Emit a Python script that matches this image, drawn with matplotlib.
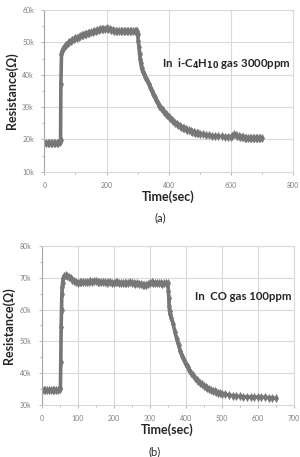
import matplotlib
matplotlib.use("Agg")
import matplotlib.pyplot as plt
from matplotlib.ticker import FuncFormatter, MultipleLocator

# (a) i-C4H10 gas 3000ppm
time_a = [0, 5, 10, 15, 20, 25, 30, 35, 40, 45, 50, 52, 53, 55, 57, 60, 65, 70, 75, 80,
          85, 90, 95, 100, 105, 110, 115, 120, 125, 130, 135, 140, 145, 150, 155, 160,
          165, 170, 175, 180, 185, 190, 195, 200, 205, 210, 215, 220, 225, 230, 235, 240,
          245, 250, 255, 260, 265, 270, 275, 280, 285, 290, 295, 298, 300, 302, 304, 306,
          308, 310, 313, 316, 320, 325, 330, 335, 340, 345, 350, 355, 360, 365, 370, 375,
          380, 385, 390, 395, 400, 405, 410, 415, 420, 425, 430, 435, 440, 445, 450, 455,
          460, 465, 470, 475, 480, 485, 490, 495, 500, 510, 520, 530, 540, 550, 560, 570,
          580, 590, 600, 605, 610, 615, 620, 625, 630, 635, 640, 645, 650, 655, 660, 665,
          670, 675, 680, 685, 690, 695, 700]
res_a = [19000, 19000, 18900, 19000, 19000, 18900, 19000, 19000, 18900, 19000, 19100,
         19800, 37000, 46500, 47300, 48000, 48800, 49300, 49800, 50200, 50500, 50800,
         51000, 51300, 51500, 51800, 52000, 52200, 52400, 52600, 52750, 52900, 53050,
         53200, 53350, 53500, 53650, 53800, 53900, 54000, 54100, 54200, 54250, 54300,
         54200, 54100, 53950, 53800, 53650, 53500, 53450, 53400, 53400, 53400, 53400,
         53400, 53400, 53400, 53400, 53400, 53450, 53500, 53550, 53600, 52500, 50500,
         48500, 46500, 45000, 43500, 42000, 41000, 40300, 39400, 38400, 37300, 36200,
         35100, 34100, 33100, 32200, 31300, 30500, 29800, 29100, 28500, 28000, 27500,
         27000, 26500, 26000, 25600, 25200, 24800, 24500, 24200, 23900, 23600, 23400,
         23200, 23000, 22800, 22600, 22450, 22300, 22150, 22000, 21900, 21800, 21600,
         21450, 21300, 21200, 21100, 21000, 20950, 20900, 20900, 20900, 21000, 21600,
         21300, 21100, 21000, 20900, 20800, 20700, 20600, 20500, 20450, 20400, 20400,
         20400, 20400, 20400, 20400, 20450, 20400, 20400]

# (b) CO gas 100ppm
time_b = [0, 5, 10, 15, 20, 25, 30, 35, 40, 45, 50, 52, 53, 54, 55, 56, 57, 58, 60, 63,
          67, 70, 75, 80, 85, 90, 95, 100, 105, 110, 115, 120, 125, 130, 135, 140, 145,
          150, 155, 160, 165, 170, 175, 180, 185, 190, 195, 200, 205, 210, 215, 220, 225,
          230, 235, 240, 245, 250, 255, 260, 265, 270, 275, 280, 285, 290, 295, 300, 305,
          310, 315, 320, 325, 330, 335, 340, 345, 350, 352, 353, 354, 355, 357, 360, 365,
          370, 375, 380, 385, 390, 395, 400, 405, 410, 415, 420, 425, 430, 435, 440, 445,
          450, 455, 460, 465, 470, 475, 480, 485, 490, 495, 500, 510, 520, 530, 540, 550,
          560, 570, 580, 590, 600, 610, 620, 630, 640, 650]
res_b = [34800, 34800, 34700, 34800, 34800, 34700, 34800, 34800, 34700, 34800, 34900,
         35300, 43500, 54500, 60000, 65000, 67000, 68500, 70000, 70600, 70800, 70600,
         70300, 69800, 69300, 69000, 68700, 68500, 68600, 68700, 68600, 68800, 68700,
         68800, 68900, 68800, 68900, 69000, 68800, 68700, 68600, 68800, 68700, 68500,
         68600, 68700, 68500, 68500, 68700, 68700, 68500, 68400, 68500, 68300, 68400,
         68500, 68600, 68500, 68300, 68200, 68400, 68100, 68000, 67800, 67600, 67700,
         68000, 68500, 68600, 68500, 68400, 68500, 68400, 68300, 68200, 68300, 68400,
         68300, 66000, 63500, 61000, 59500, 58500, 57500, 55500, 53000, 50800, 48800,
         47000, 45500, 44200, 43000, 41900, 41000, 40100, 39300, 38600, 38000, 37500,
         37000, 36500, 36100, 35700, 35400, 35100, 34800, 34500, 34300, 34100, 33900,
         33750, 33600, 33350, 33100, 32950, 32800, 32700, 32600, 32550, 32500, 32500,
         32500, 32450, 32400, 32300, 32200, 32100]

mark_color = "#777777"
grid_color = "#d9d9d9"
tick_color = "#7f7f7f"
text_color = "#262626"


def kfmt(v, pos):
    return "{}k".format(int(round(v / 1000)))


def style_axes(ax, xmax, xstep, ymin, ymax):
    ax.set_xlim(0, xmax)
    ax.set_ylim(ymin, ymax)
    ax.xaxis.set_major_locator(MultipleLocator(xstep))
    ax.xaxis.set_minor_locator(MultipleLocator(xstep / 2))
    ax.yaxis.set_major_locator(MultipleLocator(10000))
    ax.yaxis.set_minor_locator(MultipleLocator(5000))
    ax.yaxis.set_major_formatter(FuncFormatter(kfmt))
    ax.grid(True, which="major", color=grid_color, linewidth=0.8)
    ax.set_axisbelow(True)
    for s in ax.spines.values():
        s.set_color(grid_color)
        s.set_linewidth(0.8)
    ax.spines["left"].set_color("#a6a6a6")
    ax.tick_params(which="both", direction="out", colors="#a6a6a6",
                   labelcolor=tick_color, labelsize=5)
    ax.tick_params(which="major", length=2.5, width=0.6, pad=5)
    ax.tick_params(which="minor", length=1.5, width=0.6)
    for lab in ax.get_xticklabels() + ax.get_yticklabels():
        lab.set_fontfamily("Lato")


def draw_curve(ax, t, r):
    ax.plot(t, r, color=mark_color, linewidth=2.6, marker="d",
            markersize=4.2, markeredgewidth=0.5, solid_joinstyle="round")


fig = plt.figure(figsize=(3.0, 4.57), dpi=100)

ax1 = fig.add_axes([0.148, 0.624, 0.829, 0.354])
draw_curve(ax1, time_a, res_a)
style_axes(ax1, 800, 200, 10000, 60000)
ax1.text(378, 43600, r"In  i-C$_\mathbf{4}$H$_\mathbf{10}$ gas 3000ppm",
         fontsize=8.2, fontweight="bold", family="Lato", color=text_color, va="center")
ax1.set_xlabel("Time(sec)", fontsize=9, fontweight="bold", family="Lato",
               color=text_color, labelpad=1)
ax1.set_ylabel("Resistance(Ω)", fontsize=9, fontweight="bold", family="Lato",
               color=text_color, labelpad=3)
fig.text(0.533, 1 - 218 / 457, "(a)", fontsize=8, family="Lato",
         color=text_color, ha="center", va="center")

ax2 = fig.add_axes([0.139, 0.1138, 0.840, 0.3479])
draw_curve(ax2, time_b, res_b)
style_axes(ax2, 700, 100, 30000, 80000)
ax2.text(426, 64000, "In  CO gas 100ppm", fontsize=8.2, fontweight="bold",
         family="Lato", color=text_color, va="center")
ax2.set_xlabel("Time(sec)", fontsize=9, fontweight="bold", family="Lato",
               color=text_color, labelpad=1)
ax2.set_ylabel("Resistance(Ω)", fontsize=9, fontweight="bold", family="Lato",
               color=text_color, labelpad=3)
fig.text(0.517, 1 - 452 / 457, "(b)", fontsize=8, family="Lato",
         color=text_color, ha="center", va="center")

fig.savefig("out.png", dpi=100)
